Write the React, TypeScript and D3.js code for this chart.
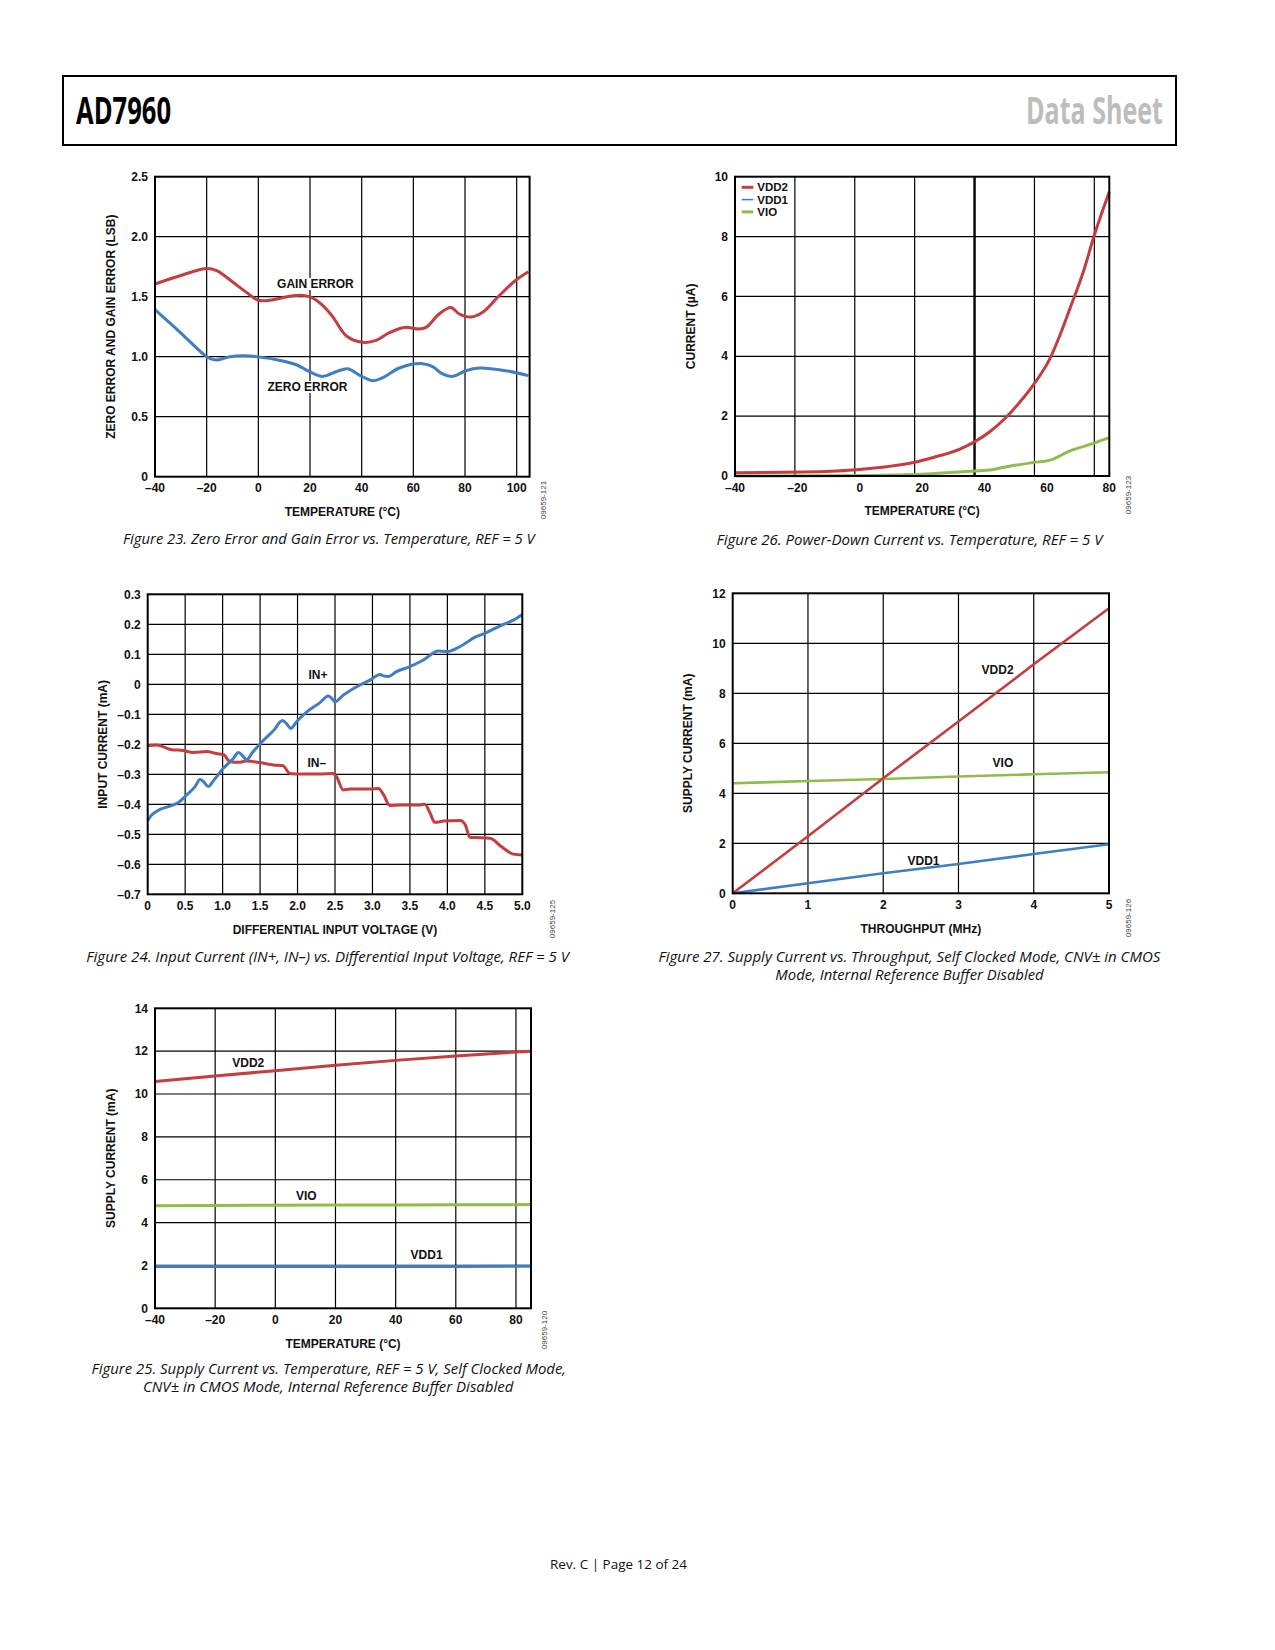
import React, { useEffect, useRef } from "react";
import * as d3 from "d3";

const RED = "#c43d3f";
const BLUE = "#3f7dc4";
const GREEN = "#8fbc4c";
const FONT = "'Liberation Sans', Arial, Helvetica, sans-serif";
const CAPTION_FONT = "'Liberation Sans Narrow', 'Open Sans', 'Liberation Sans', sans-serif";

// Figure 23: zero / gain error vs temperature
const gainTemp = [-40, -30.3, -20, -16.1, -9.8, -4.6, 0, 4.4, 12.1, 17.3, 20.5, 25, 28.9, 34, 40.4, 45.6, 50.7, 56.5, 62.3, 64.9, 70, 74.5, 77.8, 82.3, 86.8, 93.2, 99.4, 104.5];
const gainError = [1.606, 1.675, 1.736, 1.717, 1.62, 1.536, 1.47, 1.47, 1.503, 1.511, 1.494, 1.425, 1.33, 1.175, 1.12, 1.136, 1.2, 1.244, 1.23, 1.244, 1.356, 1.41, 1.356, 1.33, 1.37, 1.508, 1.633, 1.708];
const zeroTemp = [-40, -30.3, -21.3, -18.8, -16.2, -11, -3.3, 0.5, 7, 14.7, 19.8, 25, 30.1, 34.6, 39.1, 44.3, 48.2, 54.6, 63.6, 67.5, 71.3, 75.2, 80.3, 85.5, 95.8, 104.5];
const zeroError = [1.392, 1.203, 1.022, 0.986, 0.972, 1.0, 1.006, 0.997, 0.975, 0.933, 0.875, 0.836, 0.875, 0.9, 0.847, 0.8, 0.825, 0.906, 0.942, 0.917, 0.856, 0.836, 0.883, 0.906, 0.883, 0.842];
const fig23XTicks = [-40, -20, 0, 20, 40, 60, 80, 100];
const fig23YTicks = [0, 0.5, 1, 1.5, 2, 2.5];

// Figure 26: power-down current vs temperature
const pdVdd2Temp = [-40, -18.1, -7.4, -1, 8.6, 17.2, 24.6, 32.1, 36.9, 41.7, 47.1, 51.4, 55.6, 61, 64.2, 67.4, 71.7, 75.2, 80];
const pdVdd2 = [0.11, 0.13, 0.17, 0.21, 0.31, 0.45, 0.65, 0.9, 1.15, 1.48, 1.98, 2.48, 3.04, 3.93, 4.71, 5.6, 6.83, 8.05, 9.5];
const pdVioTemp = [-40, -7.4, 17.2, 36.9, 41.7, 47.1, 55.6, 61, 67.4, 74.9, 80];
const pdVio = [0.0, 0.01, 0.05, 0.17, 0.2, 0.31, 0.45, 0.53, 0.84, 1.09, 1.28];
const pdVdd1Temp = [-40, 0, 40, 80];
const pdVdd1 = [0, 0, 0, 0];
const fig26XTicks = [-40, -20, 0, 20, 40, 60, 80];
const fig26GridX = [-20, 0, 20, 40, 60, 80];
const fig26YTicks = [0, 2, 4, 6, 8, 10];

// Figure 24: input current vs differential input voltage
const inPlusV = [0, 0.053, 0.165, 0.298, 0.41, 0.52, 0.632, 0.698, 0.743, 0.81, 0.876, 1.01, 1.143, 1.21, 1.277, 1.32, 1.39, 1.52, 1.68, 1.8, 1.855, 1.91, 1.99, 2.12, 2.3, 2.41, 2.456, 2.5, 2.61, 2.79, 2.967, 3.1, 3.15, 3.21, 3.32, 3.5, 3.68, 3.88, 3.99, 4.17, 4.37, 4.5, 4.7, 4.88, 5.0];
const inPlusI = [-0.454, -0.436, -0.417, -0.406, -0.394, -0.369, -0.341, -0.317, -0.324, -0.341, -0.322, -0.28, -0.247, -0.227, -0.241, -0.252, -0.23, -0.193, -0.154, -0.121, -0.132, -0.147, -0.124, -0.093, -0.061, -0.039, -0.047, -0.058, -0.036, -0.008, 0.014, 0.033, 0.028, 0.026, 0.042, 0.059, 0.081, 0.111, 0.109, 0.126, 0.157, 0.17, 0.194, 0.214, 0.233];
const inMinusV = [0, 0.12, 0.3, 0.476, 0.61, 0.79, 0.92, 1.01, 1.1, 1.21, 1.32, 1.5, 1.68, 1.8, 1.9, 2.03, 2.3, 2.47, 2.52, 2.61, 2.7, 2.97, 3.08, 3.15, 3.23, 3.37, 3.63, 3.7, 3.77, 3.83, 3.95, 4.17, 4.24, 4.3, 4.39, 4.57, 4.72, 4.88, 5.0];
const inMinusI = [-0.204, -0.202, -0.217, -0.221, -0.227, -0.224, -0.231, -0.234, -0.258, -0.26, -0.256, -0.261, -0.269, -0.271, -0.297, -0.299, -0.299, -0.297, -0.308, -0.352, -0.349, -0.349, -0.347, -0.369, -0.404, -0.402, -0.402, -0.4, -0.43, -0.46, -0.456, -0.454, -0.469, -0.51, -0.511, -0.513, -0.541, -0.566, -0.569];
const fig24XTicks = [0, 0.5, 1, 1.5, 2, 2.5, 3, 3.5, 4, 4.5, 5];
const fig24YTicks = [-0.7, -0.6, -0.5, -0.4, -0.3, -0.2, -0.1, 0, 0.1, 0.2, 0.3];

// Figure 27: supply current vs throughput
const throughput = [0, 1, 2, 3, 4, 5];
const tpVdd2 = [0, 2.28, 4.6, 6.87, 9.16, 11.4];
const tpVio = [4.4, 4.49, 4.57, 4.67, 4.76, 4.84];
const tpVdd1 = [0, 0.4, 0.8, 1.17, 1.57, 1.96];
const fig27XTicks = [0, 1, 2, 3, 4, 5];
const fig27YTicks = [0, 2, 4, 6, 8, 10, 12];

// Figure 25: supply current vs temperature
const scTemp = [-40, -20, 0, 20, 40, 60, 80, 85];
const scVdd2 = [10.58, 10.84, 11.09, 11.34, 11.57, 11.77, 11.96, 12.0];
const scVio = [4.79, 4.8, 4.81, 4.82, 4.82, 4.83, 4.83, 4.84];
const scVdd1 = [1.95, 1.95, 1.95, 1.95, 1.95, 1.95, 1.96, 1.96];
const fig25XTicks = [-40, -20, 0, 20, 40, 60, 80];
const fig25YTicks = [0, 2, 4, 6, 8, 10, 12, 14];

const dash = (v: number, dec: number) => (v === 0 ? "0" : (v < 0 ? "\u2013" : "") + Math.abs(v).toFixed(dec));

interface Series {
	xs: number[];
	ys: number[];
	color: string;
	width: number;
	curve: d3.CurveFactory;
}
interface Note {
	text: string;
	x: number;
	y: number;
}
interface Panel {
	left: number;
	top: number;
	width: number;
	height: number;
	xDomain: [number, number];
	yDomain: [number, number];
	gridDomain?: [number, number];
	xTicks: number[];
	yTicks: number[];
	gridX?: number[];
	boldGridX?: number[];
	xFmt: (v: number) => string;
	yFmt: (v: number) => string;
	xTitle: string;
	yTitle: string;
	figId: string;
	figIdX: number;
	figIdY: number;
	series: Series[];
	notes: Note[];
	legend?: { label: string; color: string; width: number }[];
}

const panels: Panel[] = [
	{
		left: 155, top: 176.7, width: 374.6, height: 300,
		xDomain: [-40, 105], yDomain: [0, 2.5],
		xTicks: fig23XTicks, yTicks: fig23YTicks,
		xFmt: (v) => dash(v, 0), yFmt: (v) => dash(v, 1),
		xTitle: "TEMPERATURE (\u00b0C)", yTitle: "ZERO ERROR AND GAIN ERROR (LSB)",
		figId: "09659-121", figIdX: 543, figIdY: 500,
		series: [
			{ xs: gainTemp, ys: gainError, color: RED, width: 3, curve: d3.curveCatmullRom.alpha(0.5) },
			{ xs: zeroTemp, ys: zeroError, color: BLUE, width: 3, curve: d3.curveCatmullRom.alpha(0.5) },
		],
		notes: [
			{ text: "GAIN ERROR", x: 22.1, y: 1.608 },
			{ text: "ZERO ERROR", x: 19.0, y: 0.75 },
		],
	},
	{
		left: 735, top: 176.7, width: 374.3, height: 299.3,
		xDomain: [-40, 80], yDomain: [0, 10], gridDomain: [-40, 85],
		xTicks: fig26XTicks, yTicks: fig26YTicks, gridX: fig26GridX, boldGridX: [40],
		xFmt: (v) => dash(v, 0), yFmt: (v) => dash(v, 0),
		xTitle: "TEMPERATURE (\u00b0C)", yTitle: "CURRENT (\u00b5A)",
		figId: "09659-123", figIdX: 1128, figIdY: 495,
		series: [
			{ xs: pdVdd1Temp, ys: pdVdd1, color: BLUE, width: 1.5, curve: d3.curveLinear },
			{ xs: pdVioTemp, ys: pdVio, color: GREEN, width: 3, curve: d3.curveMonotoneX },
			{ xs: pdVdd2Temp, ys: pdVdd2, color: RED, width: 3, curve: d3.curveMonotoneX },
		],
		notes: [],
		legend: [
			{ label: "VDD2", color: RED, width: 3 },
			{ label: "VDD1", color: BLUE, width: 1.5 },
			{ label: "VIO", color: GREEN, width: 3 },
		],
	},
	{
		left: 147.7, top: 594.3, width: 374.6, height: 300,
		xDomain: [0, 5], yDomain: [-0.7, 0.3],
		xTicks: fig24XTicks, yTicks: fig24YTicks,
		xFmt: (v) => dash(v, 1), yFmt: (v) => dash(v, 1),
		xTitle: "DIFFERENTIAL INPUT VOLTAGE (V)", yTitle: "INPUT CURRENT (mA)",
		figId: "09659-125", figIdX: 552, figIdY: 919,
		series: [
			{ xs: inMinusV, ys: inMinusI, color: RED, width: 3, curve: d3.curveMonotoneX },
			{ xs: inPlusV, ys: inPlusI, color: BLUE, width: 3, curve: d3.curveMonotoneX },
		],
		notes: [
			{ text: "IN+", x: 2.273, y: 0.031 },
			{ text: "IN\u2013", x: 2.256, y: -0.261 },
		],
	},
	{
		left: 732.7, top: 593.3, width: 376.3, height: 300,
		xDomain: [0, 5], yDomain: [0, 12],
		xTicks: fig27XTicks, yTicks: fig27YTicks,
		xFmt: (v) => dash(v, 0), yFmt: (v) => dash(v, 0),
		xTitle: "THROUGHPUT (MHz)", yTitle: "SUPPLY CURRENT (mA)",
		figId: "09659-126", figIdX: 1128, figIdY: 918,
		series: [
			{ xs: throughput, ys: tpVio, color: GREEN, width: 2.6, curve: d3.curveLinear },
			{ xs: throughput, ys: tpVdd1, color: BLUE, width: 2.6, curve: d3.curveLinear },
			{ xs: throughput, ys: tpVdd2, color: RED, width: 2.6, curve: d3.curveLinear },
		],
		notes: [
			{ text: "VDD2", x: 3.52, y: 8.96 },
			{ text: "VIO", x: 3.59, y: 5.24 },
			{ text: "VDD1", x: 2.535, y: 1.3 },
		],
	},
	{
		left: 155, top: 1008.3, width: 376, height: 300,
		xDomain: [-40, 85], yDomain: [0, 14],
		xTicks: fig25XTicks, yTicks: fig25YTicks,
		xFmt: (v) => dash(v, 0), yFmt: (v) => dash(v, 0),
		xTitle: "TEMPERATURE (\u00b0C)", yTitle: "SUPPLY CURRENT (mA)",
		figId: "09659-120", figIdX: 544, figIdY: 1330,
		series: [
			{ xs: scTemp, ys: scVdd2, color: RED, width: 3, curve: d3.curveLinear },
			{ xs: scTemp, ys: scVio, color: GREEN, width: 3, curve: d3.curveLinear },
			{ xs: scTemp, ys: scVdd1, color: BLUE, width: 3, curve: d3.curveLinear },
		],
		notes: [
			{ text: "VDD2", x: -9.0, y: 11.46 },
			{ text: "VIO", x: 10.3, y: 5.23 },
			{ text: "VDD1", x: 50.3, y: 2.5 },
		],
	},
];

const captions = [
	{ text: "Figure 23. Zero Error and Gain Error vs. Temperature, REF = 5 V", cx: 328.8, y: 543.5, len: 411.5 },
	{ text: "Figure 26. Power-Down Current vs. Temperature, REF = 5 V", cx: 909.5, y: 544.5, len: 386 },
	{ text: "Figure 24. Input Current (IN+, IN\u2013) vs. Differential Input Voltage, REF = 5 V", cx: 327.7, y: 962, len: 482.7 },
	{ text: "Figure 27. Supply Current vs. Throughput, Self Clocked Mode, CNV\u00b1 in CMOS", cx: 909.5, y: 962, len: 501.8 },
	{ text: "Mode, Internal Reference Buffer Disabled", cx: 909.5, y: 980, len: 268.3 },
	{ text: "Figure 25. Supply Current vs. Temperature, REF = 5 V, Self Clocked Mode,", cx: 328.8, y: 1373.7, len: 474.5 },
	{ text: "CNV\u00b1 in CMOS Mode, Internal Reference Buffer Disabled", cx: 328.2, y: 1391.6, len: 370.4 },
];

type Sel = d3.Selection<SVGSVGElement, unknown, null, undefined>;

function drawPanel(svg: Sel, p: Panel) {
	const right = p.left + p.width;
	const bottom = p.top + p.height;
	const x = d3.scaleLinear().domain(p.xDomain).range([p.left, right]);
	const y = d3.scaleLinear().domain(p.yDomain).range([bottom, p.top]);
	// grid lines may follow their own scale when they don't line up with the labels
	const gx = p.gridDomain ? d3.scaleLinear().domain(p.gridDomain).range([p.left, right]) : x;
	const g = svg.append("g");

	const gridX = (p.gridX || p.xTicks).filter((d) => gx(d) > p.left + 1 && gx(d) < right - 1);
	const gridY = p.yTicks.filter((d) => y(d) > p.top + 1 && y(d) < bottom - 1);
	g.selectAll(".gx")
		.data(gridX)
		.join("line")
		.attr("x1", (d) => gx(d))
		.attr("x2", (d) => gx(d))
		.attr("y1", p.top)
		.attr("y2", bottom)
		.attr("stroke", "#000")
		.attr("stroke-width", (d) => ((p.boldGridX || []).includes(d) ? 2.4 : 1.2));
	g.selectAll(".gy")
		.data(gridY)
		.join("line")
		.attr("x1", p.left)
		.attr("x2", right)
		.attr("y1", (d) => y(d))
		.attr("y2", (d) => y(d))
		.attr("stroke", "#000")
		.attr("stroke-width", 1.2);

	const txt = (sel: d3.Selection<SVGTextElement, any, any, any>) =>
		sel.attr("font-family", FONT).attr("font-weight", "bold").attr("font-size", 12).attr("fill", "#111");

	// white knock-out behind the in-plot labels so grid lines break around them
	const knock = g.append("g");

	// curves
	p.series.forEach((s) => {
		const pts = s.xs.map((v, i) => [v, s.ys[i]] as [number, number]);
		const line = d3
			.line<[number, number]>()
			.x((d) => x(d[0]))
			.y((d) => y(d[1]))
			.curve(s.curve);
		g.append("path")
			.attr("d", line(pts))
			.attr("fill", "none")
			.attr("stroke", s.color)
			.attr("stroke-width", s.width)
			.attr("stroke-linejoin", "round")
			.attr("stroke-linecap", "butt");
	});

	// frame
	g.append("rect")
		.attr("x", p.left)
		.attr("y", p.top)
		.attr("width", p.width)
		.attr("height", p.height)
		.attr("fill", "none")
		.attr("stroke", "#000")
		.attr("stroke-width", 2);

	// tick labels
	g.selectAll(".xt")
		.data(p.xTicks)
		.join("text")
		.call(txt)
		.attr("x", (d) => x(d))
		.attr("y", bottom + 11.5)
		.attr("dy", "0.35em")
		.attr("text-anchor", "middle")
		.text((d) => p.xFmt(d));
	g.selectAll(".yt")
		.data(p.yTicks)
		.join("text")
		.call(txt)
		.attr("x", p.left - 7)
		.attr("y", (d) => y(d))
		.attr("dy", "0.35em")
		.attr("text-anchor", "end")
		.text((d) => p.yFmt(d));

	// axis titles
	g.append("text")
		.call(txt)
		.attr("x", (p.left + right) / 2)
		.attr("y", bottom + 35)
		.attr("dy", "0.35em")
		.attr("text-anchor", "middle")
		.text(p.xTitle);
	g.append("text")
		.call(txt)
		.attr("transform", `translate(${p.left - 44.5},${(p.top + bottom) / 2}) rotate(-90)`)
		.attr("dy", "0.35em")
		.attr("text-anchor", "middle")
		.text(p.yTitle);

	// in-plot labels
	const notes = g
		.selectAll(".note")
		.data(p.notes)
		.join("text")
		.call(txt)
		.attr("x", (d) => x(d.x))
		.attr("y", (d) => y(d.y))
		.attr("dy", "0.35em")
		.attr("text-anchor", "middle")
		.text((d) => d.text);
	notes.each(function () {
		const b = (this as SVGTextElement).getBBox();
		knock
			.append("rect")
			.attr("x", b.x - 1)
			.attr("y", b.y + 1)
			.attr("width", b.width + 2)
			.attr("height", b.height - 2)
			.attr("fill", "#fff");
	});

	if (p.legend) {
		const lg = g
			.selectAll(".lg")
			.data(p.legend)
			.join("g")
			.attr("transform", (_, i) => `translate(${p.left + 6.7},${p.top + 10.6 + i * 12.3})`);
		lg.append("line")
			.attr("x1", 0)
			.attr("x2", 11.6)
			.attr("stroke", (d) => d.color)
			.attr("stroke-width", (d) => d.width);
		lg.append("text")
			.call(txt)
			.attr("x", 15.6)
			.attr("dy", "0.35em")
			.attr("font-size", 11.5)
			.text((d) => d.label);
	}

	// figure number, written bottom to top
	g.append("text")
		.attr("transform", `translate(${p.figIdX},${p.figIdY}) rotate(-90)`)
		.attr("font-family", FONT)
		.attr("font-size", 8)
		.attr("fill", "#444")
		.attr("dy", "0.35em")
		.attr("text-anchor", "middle")
		.text(p.figId);
}

function draw(ref: SVGSVGElement | null) {
	if (!ref) return;
	const svg = d3.select(ref);
	svg.selectAll("*").remove();

	// page header
	svg.append("rect")
		.attr("x", 63)
		.attr("y", 76)
		.attr("width", 1113)
		.attr("height", 69)
		.attr("fill", "none")
		.attr("stroke", "#000")
		.attr("stroke-width", 2);
	svg.append("text")
		.attr("x", 76)
		.attr("y", 124)
		.attr("font-family", CAPTION_FONT)
		.attr("font-weight", "bold")
		.attr("font-size", 38)
		.attr("textLength", 95)
		.attr("lengthAdjust", "spacingAndGlyphs")
		.attr("fill", "#000")
		.text("AD7960");
	svg.append("text")
		.attr("x", 1026)
		.attr("y", 124)
		.attr("font-family", CAPTION_FONT)
		.attr("font-weight", "bold")
		.attr("font-size", 38)
		.attr("textLength", 137)
		.attr("lengthAdjust", "spacingAndGlyphs")
		.attr("fill", "#bdbdbd")
		.text("Data Sheet");

	panels.forEach((p) => drawPanel(svg, p));

	svg.selectAll(".cap")
		.data(captions)
		.join("text")
		.attr("x", (d) => d.cx)
		.attr("y", (d) => d.y)
		.attr("text-anchor", "middle")
		.attr("font-family", CAPTION_FONT)
		.attr("font-style", "italic")
		.attr("font-size", 14.5)
		.attr("textLength", (d) => d.len)
		.attr("lengthAdjust", "spacingAndGlyphs")
		.attr("fill", "#111")
		.text((d) => d.text);

	svg.append("text")
		.attr("x", 618.5)
		.attr("y", 1569)
		.attr("text-anchor", "middle")
		.attr("font-family", CAPTION_FONT)
		.attr("font-size", 13.5)
		.attr("textLength", 137)
		.attr("lengthAdjust", "spacingAndGlyphs")
		.attr("fill", "#111")
		.text("Rev. C | Page 12 of 24");
}

export default function App() {
	const ref = useRef<SVGSVGElement>(null);
	useEffect(() => {
		draw(ref.current);
	}, []);
	return (
		<svg
			ref={ref}
			width={1275}
			height={1650}
			viewBox="0 0 1275 1650"
			style={{ position: "absolute", left: 0, top: 0, background: "#fff" }}
		/>
	);
}
